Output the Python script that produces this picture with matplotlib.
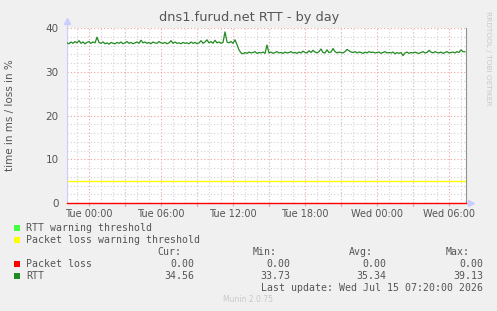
#!/usr/bin/env python3
"""Munin style RTT graph for dns1.furud.net (by day)."""

import matplotlib
matplotlib.use("Agg")
import matplotlib.pyplot as plt
from matplotlib.ticker import MultipleLocator
import numpy as np

# RTT samples (ms), every 10 minutes from Mon 22:10 to Wed 07:20
RTT_VALUES = [
    36.6, 36.4, 36.8, 36.5, 36.9, 36.6,   # Mon 22h
    37.1, 36.5, 36.8, 36.4, 36.7, 36.9,   # Mon 23h
    36.5, 36.8, 36.6, 37.9, 36.7, 36.5,   # Tue 00h
    36.8, 36.4, 36.6, 36.3, 36.7, 36.5,
    36.4, 36.7, 36.5, 36.8, 36.4, 36.6,
    36.9, 36.5, 36.7, 36.4, 36.6, 36.8,
    36.5, 37.2, 36.6, 36.8, 36.5, 36.7,
    36.4, 36.8, 36.6, 36.5, 36.9, 36.6,
    36.5, 36.7, 36.4, 36.6, 37.1, 36.5,
    36.8, 36.5, 36.6, 36.4, 36.7, 36.5,
    36.6, 36.4, 36.8, 36.5, 36.7, 36.4,
    36.6, 37.1, 36.5, 36.8, 37.3, 36.6,
    36.9, 36.5, 37.2, 36.6, 36.8, 36.5,
    36.7, 39.1, 36.8, 36.6, 36.9, 36.5,
    37.3, 36.2, 35.0, 34.3, 34.1, 34.4,   # Tue 12h
    34.2, 34.5, 34.3, 34.4, 34.6, 34.2,
    34.4, 34.3, 34.5, 34.2, 36.1, 34.3,
    34.5, 34.2, 34.4, 34.6, 34.3, 34.4,
    34.2, 34.5, 34.3, 34.4, 34.6, 34.3,
    34.4, 34.2, 34.5, 34.3, 34.7, 34.4,
    34.3, 34.8, 34.4, 34.9, 34.5, 34.3,   # Tue 18h
    34.6, 35.2, 34.4, 34.3, 35.0, 34.4,
    34.5, 35.3, 34.6, 34.3, 34.5, 34.4,
    34.3, 34.6, 35.1, 34.8, 34.5, 34.4,
    34.6, 34.3, 34.5, 34.4, 34.2, 34.5,
    34.3, 34.6, 34.4, 34.5, 34.3, 34.4,
    34.5, 34.2, 34.4, 34.6, 34.3, 34.4,   # Wed 00h
    34.3, 34.5, 34.1, 34.4, 34.2, 34.4,
    33.7, 34.3, 34.5, 34.2, 34.4, 34.3,
    34.5, 34.3, 34.2, 34.4, 34.6, 34.3,
    34.4, 34.9, 34.5, 34.3, 34.6, 34.4,
    34.3, 34.5, 34.2, 34.4, 34.6, 34.3,
    34.4, 34.5, 34.3, 34.6, 34.4, 35.0,   # Wed 06h
    34.6, 34.56,
]
START_HOUR = -1 - 50 / 60          # Mon 22:10, hours relative to Tue 00:00
STEP_HOUR = 10 / 60

PACKET_LOSS = [0.0, 0.0]
LOSS_WARNING = 5

TICK_HOURS = [0, 6, 12, 18, 24, 30]
TICK_LABELS = ["Tue 00:00", "Tue 06:00", "Tue 12:00", "Tue 18:00",
               "Wed 00:00", "Wed 06:00"]

LEGEND_ROWS = [
    ("Packet loss", "0.00", "0.00", "0.00", "0.00"),
    ("RTT", "34.56", "33.73", "35.34", "39.13"),
]

W, H = 497, 311
BG = "#f0f0f0"
TXT = "#555555"
RTT_COLOR = "#218a21"
LOSS_COLOR = "#ff0000"
LOSS_WARN_COLOR = "#ffff00"
RTT_WARN_COLOR = "#44ff44"


def fx(x):
    return x / W


def fy(y):
    return 1 - y / H


fig = plt.figure(figsize=(W / 100, H / 100), dpi=100, facecolor=BG)
ax = fig.add_axes([fx(67), fy(203), (466 - 67) / W, (203 - 28) / H])
ax.set_facecolor("white")

hours = START_HOUR + STEP_HOUR * np.arange(len(RTT_VALUES))
xmin, xmax = -1 - 50 / 60, 31 + 25 / 60
ax.set_xlim(xmin, xmax)
ax.set_ylim(0, 40)

# grid: gray dotted minor, red dotted major
ax.yaxis.set_major_locator(MultipleLocator(10))
ax.yaxis.set_minor_locator(MultipleLocator(2))
ax.set_xticks(TICK_HOURS)
ax.set_xticklabels(TICK_LABELS)
ax.xaxis.set_minor_locator(MultipleLocator(1))
ax.grid(which="minor", color="#d2d2d2", linestyle=(0, (1, 2)), linewidth=0.8)
ax.grid(which="major", color="#f0a0a0", linestyle=(0, (1, 2)), linewidth=0.8)
ax.set_axisbelow(True)

# red grid every 3 hours, labels only every 6
for h in np.arange(3, 31, 6):
    ax.axvline(h, color="#f0a0a0", linestyle=(0, (1, 2)), linewidth=0.8, zorder=0.5)
    ax.plot([h, h], [0, -0.7], color="#f0a0a0", lw=0.8, clip_on=False)

ax.tick_params(axis="x", which="major", length=2, color="#f0a0a0",
               labelsize=7, labelcolor=TXT, pad=2)
ax.tick_params(axis="y", which="major", length=0, labelsize=7.5,
               labelcolor=TXT, pad=6)
ax.tick_params(which="minor", length=0)

for side in ("top", "bottom"):
    ax.spines[side].set_visible(False)
ax.spines["left"].set_color("#ccccff")
ax.spines["left"].set_linewidth(0.8)
ax.spines["right"].set_color("#909090")
ax.spines["right"].set_linewidth(0.8)

# data
ax.axhline(LOSS_WARNING, color=LOSS_WARN_COLOR, lw=1.0, zorder=2)
ax.plot([xmin, xmax], PACKET_LOSS, color=LOSS_COLOR, lw=1.0, zorder=3,
        clip_on=False)
ax.plot(hours, RTT_VALUES, color=RTT_COLOR, lw=0.9, zorder=4)

# axis arrows
ax.plot([0], [1.04], marker="^", color="#ccccff", markersize=4,
        transform=ax.transAxes, clip_on=False)
ax.plot([xmin, xmin], [40, 41.5], color="#ccccff", lw=0.8, clip_on=False)
ax.plot([1.012], [0], marker=">", color="#ccccff", markersize=4,
        transform=ax.transAxes, clip_on=False)

# title, axis label and side texts
fig.text(fx(249), fy(18), "dns1.furud.net RTT - by day", ha="center",
         va="center", fontsize=9.3, color=TXT)
fig.text(fx(10), fy(115), "time in ms / loss in %", ha="center", va="center",
         rotation=90, fontsize=7.5, color=TXT)
fig.text(fx(488), fy(58), "RRDTOOL / TOBI OETIKER", ha="center", va="center",
         rotation=-90, fontsize=5.3, color="#c8c8c8")
fig.text(fx(248), fy(300), "Munin 2.0.75", ha="center", va="center",
         fontsize=5.5, color="#c8c8c8")

# legend block
mono = dict(family="DejaVu Sans Mono", fontsize=7.1, color=TXT, va="center")


def swatch(y, color):
    fig.patches.append(plt.Rectangle((fx(14), fy(y + 2.7)), 5.5 / W, 5.5 / H,
                                     transform=fig.transFigure,
                                     facecolor=color, edgecolor="none"))


swatch(228, RTT_WARN_COLOR)
fig.text(fx(26), fy(228), "RTT warning threshold", **mono)
swatch(240, LOSS_WARN_COLOR)
fig.text(fx(26), fy(240), "Packet loss warning threshold", **mono)

col_right = [194, 290, 386, 483]
for x, head in zip([181, 277, 373, 470], ["Cur:", "Min:", "Avg:", "Max:"]):
    fig.text(fx(x), fy(252), head, ha="right", **mono)

for y, color, row in zip([264, 276], [LOSS_COLOR, RTT_COLOR], LEGEND_ROWS):
    swatch(y, color)
    fig.text(fx(26), fy(y), row[0], **mono)
    for x, val in zip(col_right, row[1:]):
        fig.text(fx(x), fy(y), val, ha="right", **mono)

fig.text(fx(483), fy(288), "Last update: Wed Jul 15 07:20:00 2026",
         ha="right", **mono)

fig.savefig("out.png", dpi=100, facecolor=BG)
